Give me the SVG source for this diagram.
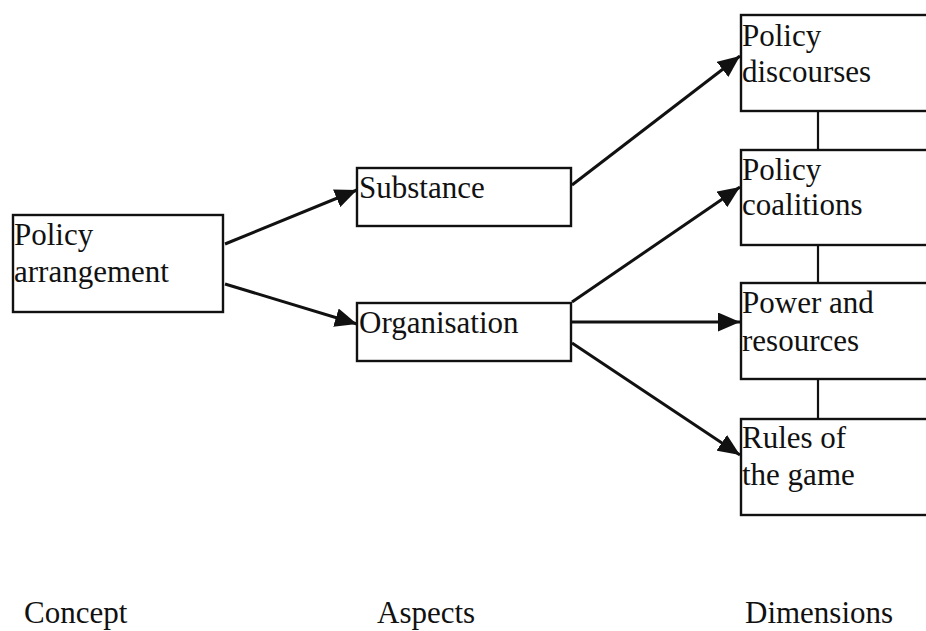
<svg xmlns="http://www.w3.org/2000/svg" width="926" height="631" viewBox="0 0 926 631">
<style>
.box{fill:#fff;stroke:#111;stroke-width:2.4}
.t{font-family:"Liberation Serif","Times New Roman",serif;font-size:31px;fill:#111}
.c{stroke:#111;stroke-width:3;fill:none}
.v{stroke:#111;stroke-width:2.2;fill:none}
</style>
<defs>
<marker id="ah" viewBox="0 0 22 19" refX="22" refY="9.5" markerWidth="22" markerHeight="19" markerUnits="userSpaceOnUse" orient="auto">
<path d="M0,0 L22,9.5 L0,19 z" fill="#111"/>
</marker>
</defs>
<rect width="926" height="631" fill="#fff"/>
<g id="connectors">
<line class="c" x1="225" y1="244" x2="357" y2="190" marker-end="url(#ah)"/>
<line class="c" x1="225" y1="284" x2="357" y2="324" marker-end="url(#ah)"/>
<line class="c" x1="572" y1="185" x2="740" y2="56" marker-end="url(#ah)"/>
<line class="c" x1="572" y1="302" x2="740" y2="187" marker-end="url(#ah)"/>
<line class="c" x1="572" y1="322" x2="740" y2="322" marker-end="url(#ah)"/>
<line class="c" x1="572" y1="343" x2="740" y2="455" marker-end="url(#ah)"/>
<line class="v" x1="818" y1="111" x2="818" y2="150"/>
<line class="v" x1="818" y1="245" x2="818" y2="283"/>
<line class="v" x1="818" y1="379" x2="818" y2="419"/>
</g>
<g id="policy-arrangement">
<rect class="box" x="13" y="215" width="210" height="97"/>
<text class="t" x="14" y="245">Policy</text>
<text class="t" x="14" y="282">arrangement</text>
</g>
<g id="substance">
<rect class="box" x="357" y="168" width="214" height="58"/>
<text class="t" x="359" y="198">Substance</text>
</g>
<g id="organisation">
<rect class="box" x="357" y="303" width="214" height="58"/>
<text class="t" x="359" y="333">Organisation</text>
</g>
<g id="policy-discourses">
<rect class="box" x="741" y="15" width="200" height="96"/>
<text class="t" x="742" y="46">Policy</text>
<text class="t" x="742" y="82">discourses</text>
</g>
<g id="policy-coalitions">
<rect class="box" x="741" y="150" width="200" height="95"/>
<text class="t" x="742" y="180">Policy</text>
<text class="t" x="742" y="215">coalitions</text>
</g>
<g id="power-resources">
<rect class="box" x="741" y="283" width="200" height="96"/>
<text class="t" x="742" y="313">Power and</text>
<text class="t" x="742" y="351">resources</text>
</g>
<g id="rules-game">
<rect class="box" x="741" y="419" width="200" height="96"/>
<text class="t" x="742" y="448">Rules of</text>
<text class="t" x="742" y="485">the game</text>
</g>
<g id="column-labels">
<text class="t" x="24" y="623">Concept</text>
<text class="t" x="377" y="623">Aspects</text>
<text class="t" x="745" y="623">Dimensions</text>
</g>
</svg>
